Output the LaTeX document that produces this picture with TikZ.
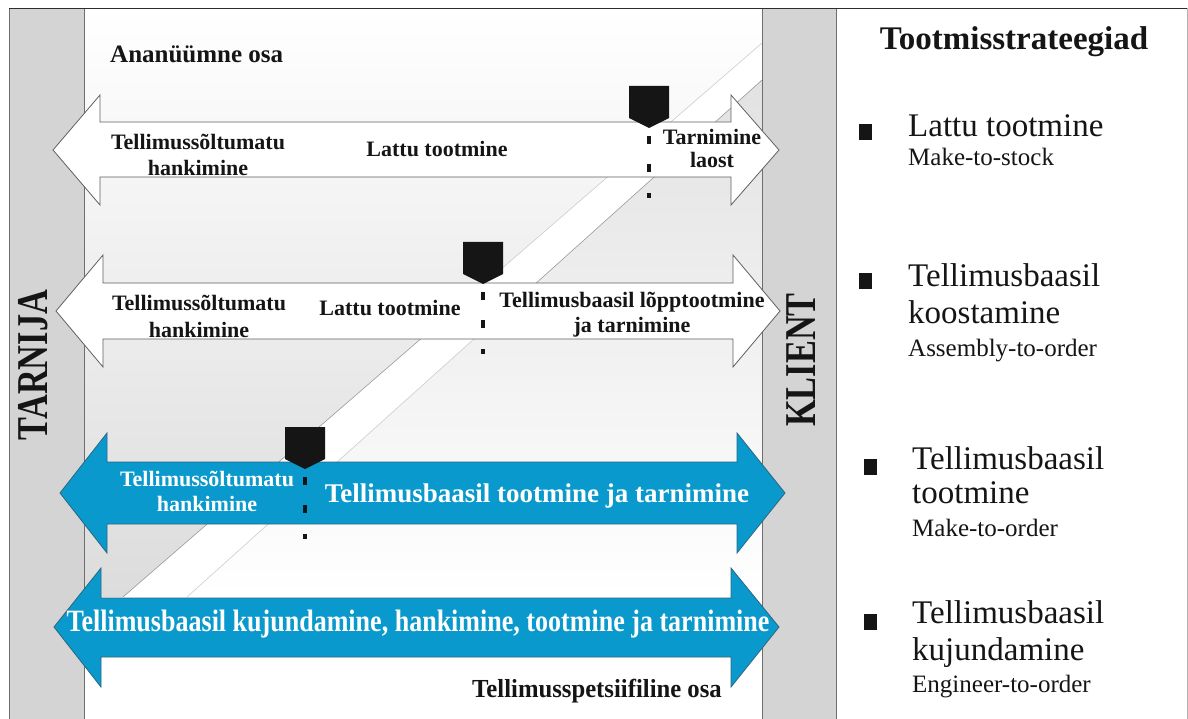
\documentclass[tikz,border=0pt]{standalone}
\usepackage{fontspec}
\setmainfont{Liberation Serif}

\definecolor{stripgray}{HTML}{D4D4D4}
\definecolor{stripedge}{HTML}{6E6E6E}
\definecolor{flowblue}{HTML}{0A99CC}
\definecolor{flowedge}{HTML}{2C6680}
\definecolor{shadegray}{HTML}{DCDCDC}
\definecolor{shadegrayB}{HTML}{E2E2E2}
\definecolor{bandlight}{HTML}{CDCDCD}
\definecolor{banddark}{HTML}{9A9A9A}
\definecolor{ink}{HTML}{151515}

\newcommand\setfs[1]{\fontsize{#1}{#1}\selectfont}

\begin{document}
\begin{tikzpicture}[x=1pt,y=-1pt,
  strip/.style={fill=stripgray,draw=stripedge,line width=0.9pt},
  plainarrow/.style={fill=white,draw=gray!75!black,line width=0.8pt},
  bluearrow/.style={fill=flowblue,draw=flowedge,line width=0.8pt},
  lbl/.style={font=\bfseries\setfs{22},text=ink,inner sep=0pt,anchor=base},
  wlbl/.style={lbl,text=white},
  item/.style={font=\setfs{33},text=ink,inner sep=0pt,anchor=base west},
  subitem/.style={font=\setfs{25},text=ink,inner sep=0pt,anchor=base west},
  side/.style={font=\bfseries\setfs{44},text=ink,inner sep=0pt,rotate=90},
  decoupling/.style={fill=ink},
  bullet/.style={fill=ink},
  bandedge/.style={line width=0.6pt},
]
\useasboundingbox (0,0) rectangle (1188,719);
\fill[white] (0,0) rectangle (1188,719);

% anonymous (upper-left) part: fades to grey towards the band
\shade[top color=white,bottom color=shadegray]
  (84,8) -- (762,8) -- (762,43) -- (123,597) -- (84,597) -- cycle;
% order-specific (lower-right) part: grey at the top, fading out below
\shade[top color=shadegrayB,bottom color=white]
  (762,80) -- (187,597) -- (762,597) -- cycle;

% edges of the diagonal band (darker where they meet the grey)
\coordinate (bandAtop) at (762,43);
\coordinate (bandAmid) at (442.5,320);
\coordinate (bandAbot) at (123,597);
\coordinate (bandBtop) at (762,80);
\coordinate (bandBmid) at (474.5,338.5);
\coordinate (bandBbot) at (187,597);
\draw[bandedge,bandlight] (bandAtop) -- (bandAmid);
\draw[bandedge,banddark] (bandAmid) -- (bandAbot);
\draw[bandedge,banddark] (bandBtop) -- (bandBmid);
\draw[bandedge,bandlight] (bandBmid) -- (bandBbot);

% supplier and customer strips, frame
\draw[strip] (9,8) rectangle (84,725);
\draw[strip] (762,8) rectangle (836,725);
\draw[line width=0.9pt,draw=gray!35!black] (9,8) -- (1188,8);
\draw[line width=0.6pt,draw=gray!60] (1187,8) -- (1187,725);

% flow arrows
\draw[plainarrow] (53,150) -- (100,95) -- (100,122) -- (731,122) -- (731,95) -- (779,150)
  -- (731,205) -- (731,177) -- (100,177) -- (100,205) -- cycle;
\draw[plainarrow] (56,311) -- (103,255) -- (103,283) -- (733,283) -- (733,255) -- (780,311)
  -- (733,367) -- (733,339) -- (103,339) -- (103,367) -- cycle;
\draw[bluearrow] (60,493) -- (107,433) -- (107,462) -- (737,462) -- (737,433) -- (785,493)
  -- (737,553) -- (737,524) -- (107,524) -- (107,553) -- cycle;
\draw[bluearrow] (54,627) -- (101,568) -- (101,598) -- (731,598) -- (731,568) -- (779,627)
  -- (731,687) -- (731,657) -- (101,657) -- (101,687) -- cycle;

% decoupling points with their dotted drop lines
\foreach \mx/\my in {649/86, 483/242, 305/427} {
  \fill[decoupling] (\mx-20,\my) -- (\mx+20,\my) -- (\mx+20,\my+32) -- (\mx,\my+42)
    -- (\mx-20,\my+32) -- cycle;
  \fill[decoupling] (\mx-2,\my+50) rectangle (\mx+2,\my+58);
  \fill[decoupling] (\mx-2,\my+78) rectangle (\mx+2,\my+86);
  \fill[decoupling] (\mx-2,\my+107) rectangle (\mx+2,\my+112);
}

% side labels
\node[side] (tarnija) at (33,365) {\scalebox{0.78}[1]{TARNIJA}};
\node[side] (klient) at (801,360) {\scalebox{0.78}[1]{KLIENT}};

% part labels
\node[lbl,anchor=base west,font=\bfseries\setfs{25}] (anon) at (110,63) {Ananüümne osa};
\node[lbl,font=\bfseries\setfs{26}] (spec) at (597,697)
  {\scalebox{0.95}[1]{Tellimusspetsiifiline osa}};

% make-to-stock arrow
\node[lbl] (a1l1) at (198,150) {Tellimussõltumatu};
\node[lbl] (a1l2) at (198,176) {hankimine};
\node[lbl] (a1m) at (437,157) {Lattu tootmine};
\node[lbl] (a1r1) at (712,145) {Tarnimine};
\node[lbl] (a1r2) at (712,168) {laost};

% assembly-to-order arrow
\node[lbl] (a2l1) at (199,310) {Tellimussõltumatu};
\node[lbl] (a2l2) at (199,337) {hankimine};
\node[lbl] (a2m) at (390,315) {Lattu tootmine};
\node[lbl] (a2r1) at (632,307) {Tellimusbaasil lõpptootmine};
\node[lbl] (a2r2) at (632,332) {ja tarnimine};

% make-to-order arrow
\node[wlbl] (a3l1) at (207,486) {Tellimussõltumatu};
\node[wlbl] (a3l2) at (207,511) {hankimine};
\node[wlbl,font=\bfseries\setfs{27}] (a3r) at (537,502) {Tellimusbaasil tootmine ja tarnimine};

% engineer-to-order arrow
\node[wlbl,font=\bfseries\setfs{31}] (a4) at (418,631)
  {\scalebox{0.84}[1]{Tellimusbaasil kujundamine, hankimine, tootmine ja tarnimine}};

% strategy legend
\node[lbl,font=\bfseries\setfs{33}] (title) at (1014,50) {Tootmisstrateegiad};

\fill[bullet] (859,124) rectangle (872,140);
\node[item] (s1a) at (908,137) {Lattu tootmine};
\node[subitem] (s1b) at (908,166) {Make-to-stock};

\fill[bullet] (859,273) rectangle (872,289);
\node[item] (s2a) at (908,287) {Tellimusbaasil};
\node[item] (s2b) at (908,323) {koostamine};
\node[subitem] (s2c) at (908,356) {Assembly-to-order};

\fill[bullet] (864,459) rectangle (877,475);
\node[item] (s3a) at (912,469) {Tellimusbaasil};
\node[item] (s3b) at (912,503) {tootmine};
\node[subitem] (s3c) at (912,536) {Make-to-order};

\fill[bullet] (864,614) rectangle (877,630);
\node[item] (s4a) at (912,623) {Tellimusbaasil};
\node[item] (s4b) at (912,660) {kujundamine};
\node[subitem] (s4c) at (912,692) {Engineer-to-order};
\end{tikzpicture}
\end{document}
